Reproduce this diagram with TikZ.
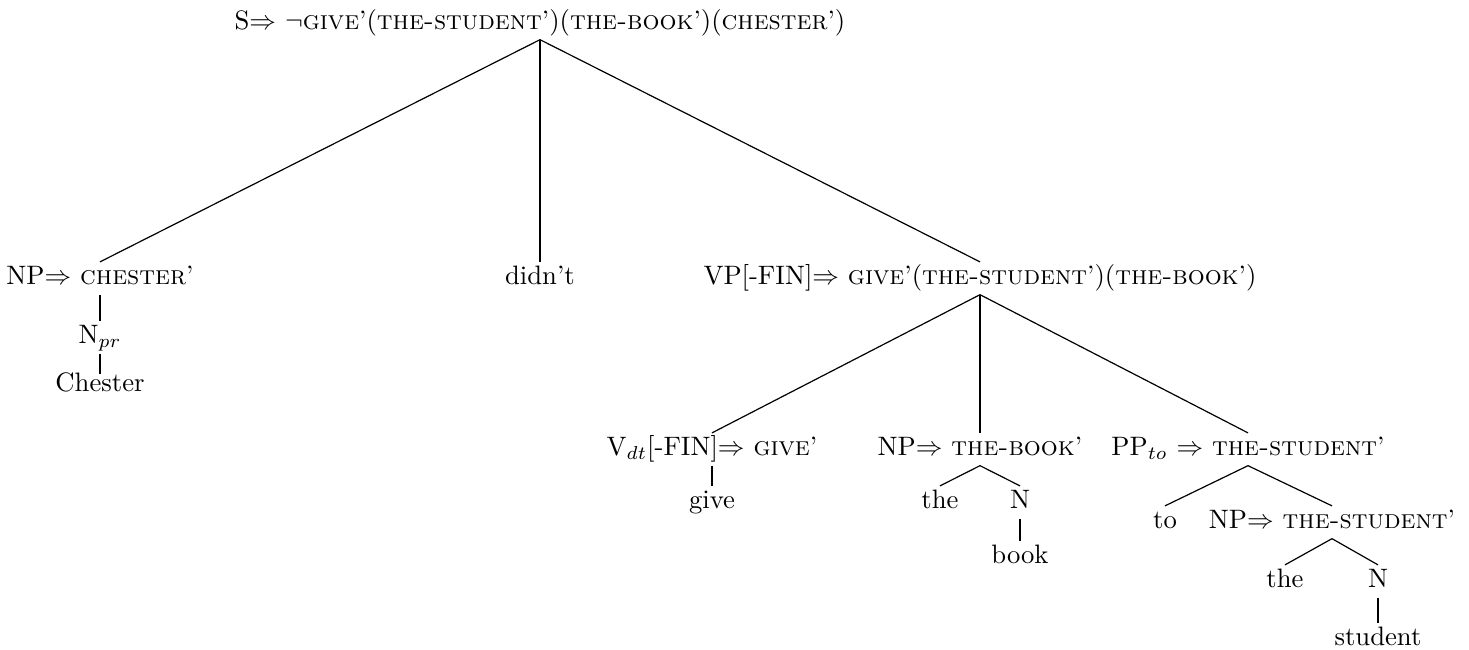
\documentclass[tikz,border=0pt]{standalone}
\begin{document}
\begin{tikzpicture}[x=0.375pt,y=-0.375pt,
  lbl/.style={anchor=base, inner sep=1.2pt, text height=6.9pt, text depth=2.6pt},
  edge/.style={line width=0.45pt}]
\useasboundingbox (0,0) rectangle (1469,650);

% root
\node[lbl] (s) at (540,29) {S$\Rightarrow$ $\neg$\textsc{give}'(\textsc{the-student}')(\textsc{the-book}')(\textsc{chester}')};

% first level
\node[lbl] (np1) at (100,284) {NP$\Rightarrow$ \textsc{chester}'};
\node[lbl] (didnt) at (540,284) {didn't};
\node[lbl] (vp) at (980,284) {VP[-FIN]$\Rightarrow$ \textsc{give}'(\textsc{the-student}')(\textsc{the-book}')};

% subject
\node[lbl] (npr) at (100,343) {N$_{pr}$};
\node[lbl,text height=5pt] (chester) at (100,391) {Chester};

% verb phrase daughters
\node[lbl] (vdt) at (712,455) {V$_{dt}$[-FIN]$\Rightarrow$ \textsc{give}'};
\node[lbl] (npb) at (980,455) {NP$\Rightarrow$ \textsc{the-book}'};
\node[lbl] (pp) at (1248,455) {PP$_{to}$ $\Rightarrow$ \textsc{the-student}'};

\node[lbl] (give) at (712,508) {give};
\node[lbl] (theb) at (940,508) {the};
\node[lbl] (nb) at (1020,508) {N};
\node[lbl] (book) at (1020,563) {book};

\node[lbl] (to) at (1165,528) {to};
\node[lbl] (nps) at (1332,528) {NP$\Rightarrow$ \textsc{the-student}'};
\node[lbl] (thes) at (1285,587) {the};
\node[lbl] (ns) at (1378,587) {N};
\node[lbl] (student) at (1378,645) {student};

% branches
\draw[edge] (s.south) -- (np1.north);
\draw[edge] (s.south) -- (didnt.north);
\draw[edge] (s.south) -- (vp.north);
\draw[edge] (np1.south) -- (npr.north);
\draw[edge] (npr.south) -- (chester.north);
\draw[edge] (vp.south) -- (vdt.north);
\draw[edge] (vp.south) -- (npb.north);
\draw[edge] (vp.south) -- (pp.north);
\draw[edge] (vdt.south) -- (give.north);
\draw[edge] (npb.south) -- (theb.north);
\draw[edge] (npb.south) -- (nb.north);
\draw[edge] (nb.south) -- (book.north);
\draw[edge] (pp.south) -- (to.north);
\draw[edge] (pp.south) -- (nps.north);
\draw[edge] (nps.south) -- (thes.north);
\draw[edge] (nps.south) -- (ns.north);
\draw[edge] (ns.south) -- (student.north);
\end{tikzpicture}
\end{document}
